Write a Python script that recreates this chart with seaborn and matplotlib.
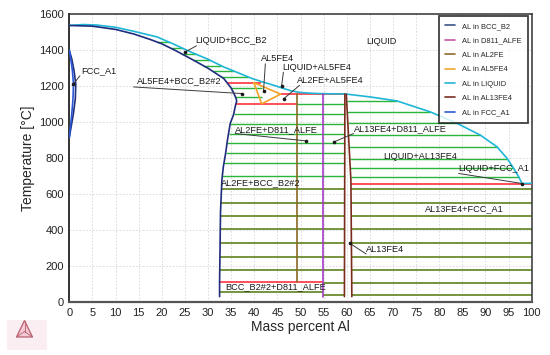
import numpy as np
import pandas as pd
import matplotlib
matplotlib.use("Agg")
import matplotlib.pyplot as plt
from matplotlib.lines import Line2D
from matplotlib.patches import Polygon, Rectangle
import seaborn as sns

# ---------------- data (mass % Al, temperature in degC) ----------------
liquid_x = [0, 3, 6, 10, 14, 19, 22.5, 26.2, 30, 33.4, 36, 39.5, 42, 44, 46, 48, 50, 53, 56, 59.7,
            65.2, 70.9, 78.1, 83.9, 88.9, 92.5, 94.7, 96.1, 97.2, 97.9, 100]
liquid_t = [1538, 1543, 1540, 1528, 1505, 1474, 1435, 1391, 1350, 1307, 1280, 1243, 1222, 1207, 1190, 1174, 1165, 1160, 1158, 1157,
            1140, 1118, 1057, 993, 928, 863, 798, 743, 696, 659, 660]

bcc_x = [0, 5, 10, 14, 17.5, 20, 23, 26.2, 30, 33.4, 34.1, 35.0, 35.6, 36.1, 36.2, 36.0, 35.5, 34.8,
         34.2, 33.8, 33.3, 33.0, 32.7, 32.6, 32.5, 32.5]
bcc_t = [1538, 1534, 1516, 1490, 1460, 1436, 1398, 1354, 1300, 1243, 1220, 1190, 1160, 1130, 1115, 1100, 1040, 993,
         900, 826, 750, 678, 500, 300, 109, 30]

loop_bcc_x = [0, 0.5, 1.0, 1.4, 1.3, 0.9, 0.4, 0]
loop_bcc_t = [1400, 1355, 1290, 1213, 1130, 1050, 975, 915]
loop_fcc_x = [0, 0.3, 0.65, 0.9, 0.8, 0.55, 0.25, 0]
loop_fcc_t = [1400, 1355, 1290, 1213, 1130, 1050, 975, 915]

al5fe4_x = [39.9, 45.7, 41.6, 39.9]
al5fe4_t = [1220, 1156, 1102, 1220]

al2fe_x = [49.2, 49.2]
al2fe_t = [1156, 109]

d811_x = [54.9, 54.9]
d811_t = [1156, 30]

al13fe4_left_x = [59.6, 59.5]
al13fe4_left_t = [1156, 30]
al13fe4_right_x = [59.9, 60.9, 61.1]
al13fe4_right_t = [1156, 678, 30]

# invariant (red) lines
inv_t = [1220, 1156, 1100, 659, 109]
inv_x0 = [34.1, 45.7, 36.0, 61.0, 32.5]
inv_x1 = [41.5, 59.9, 49.2, 100, 54.9]

# tie-line temperatures
tie_liq_bcc = [1446, 1410, 1378, 1345, 1315, 1283, 1252]
tie_al5fe4_bcc = [1188, 1140]
tie_upper_solid = [1048, 992, 937, 882, 826, 771, 700]
tie_d811_top = [1100]
tie_liq_al13 = [1118, 1057, 993, 928, 863, 798, 743, 696]
tie_lower_solid = [628, 553, 479, 404, 326, 251, 177]
tie_right_low = [104, 39]
tie_bcc_d811 = [57]

# labels: text, x, T, arrow tip (x, T) or None, arrow start (x, T)
labels = [
    ("FCC_A1", 6.4, 1285, (0.9, 1213), (2.3, 1258)),
    ("LIQUID+BCC_B2", 35.0, 1452, (25.1, 1391), (27.5, 1425)),
    ("LIQUID", 67.4, 1450, None, None),
    ("AL5FE4", 45.1, 1354, (42.0, 1172), (42.4, 1325)),
    ("LIQUID+AL5FE4", 53.6, 1302, (45.9, 1200), (46.3, 1278)),
    ("AL2FE+AL5FE4", 56.5, 1230, (46.4, 1131), (49.8, 1205)),
    ("AL5FE4+BCC_B2#2", 23.7, 1228, (37.4, 1159), (13.9, 1196)),
    ("AL2FE+D811_ALFE", 44.9, 959, (51.2, 896), (35.9, 937)),
    ("AL13FE4+D811_ALFE", 71.7, 965, (57.2, 890), (61.5, 937)),
    ("LIQUID+AL13FE4", 75.9, 811, None, None),
    ("LIQUID+FCC_A1", 91.8, 743, (97.9, 659), (84.2, 715)),
    ("AL2FE+BCC_B2#2", 41.3, 665, None, None),
    ("AL13FE4+FCC_A1", 85.4, 520, None, None),
    ("AL13FE4", 68.3, 294, (60.7, 326), (64.2, 267)),
    ("BCC_B2#2+D811_ALFE", 44.7, 85, None, None),
]

legend_labels = ["AL in BCC_B2", "AL in D811_ALFE", "AL in AL2FE", "AL in AL5FE4",
                 "AL in LIQUID", "AL in AL13FE4", "AL in FCC_A1"]

x_ticks = list(range(0, 101, 5))
y_ticks = list(range(0, 1601, 200))

# ---------------- style ----------------
C_BCC = "#1f2d7c"
C_D811 = "#a43cc4"
C_AL2FE = "#8a6a22"
C_AL5FE4 = "#f2a228"
C_LIQ = "#1eb6d6"
C_AL13 = "#7a2c1e"
C_FCC = "#2a58d4"
C_RED = "#ff1f2f"
C_GREEN = "#2cb43a"
C_OLIVE = "#6a8c2c"
legend_colors = ["#3a5488", "#c058a6", "#8c6d2c", "#f2a830", "#22b4d8", "#7a2e20", "#2c5bd0"]

sns.set_theme(style="white")
plt.rcParams["font.family"] = ["Liberation Sans", "DejaVu Sans"]

fig = plt.figure(figsize=(5.5, 3.55), dpi=100)
ax = fig.add_axes([69.3 / 550, 53 / 355, 462.4 / 550, 287.7 / 355])

ax.set_xlim(0, 100)
ax.set_ylim(0, 1600)
ax.set_xticks(x_ticks)
ax.set_yticks(y_ticks)
ax.grid(True, color="#d6d6d6", linestyle=(0, (2, 2)), linewidth=0.6)
ax.set_axisbelow(True)

def inv_curve(xs, ts, T):
    ts = np.asarray(ts, float)
    xs = np.asarray(xs, float)
    return float(np.interp(T, ts[::-1], xs[::-1]))

# tie lines
lw_tie = 1.0
for T in tie_liq_bcc:
    ax.hlines(T, inv_curve(bcc_x, bcc_t, T), inv_curve(liquid_x[1:15], liquid_t[1:15], T),
              color=C_GREEN, lw=lw_tie, zorder=2)
for T in tie_al5fe4_bcc:
    ax.hlines(T, inv_curve(bcc_x, bcc_t, T), inv_curve(al5fe4_x[2::-2], al5fe4_t[2::-2], T),
              color=C_GREEN, lw=lw_tie, zorder=2)
for T in tie_upper_solid:
    ax.hlines(T, inv_curve(bcc_x, bcc_t, T), al13fe4_left_x[0], color=C_GREEN, lw=lw_tie, zorder=2)
for T in tie_d811_top:
    ax.hlines(T, al2fe_x[0], al13fe4_left_x[0], color=C_GREEN, lw=lw_tie, zorder=2)
for T in tie_liq_al13:
    ax.hlines(T, inv_curve(al13fe4_right_x, al13fe4_right_t, T),
              inv_curve(liquid_x[19:30], liquid_t[19:30], T), color=C_GREEN, lw=lw_tie, zorder=2)
for T in tie_lower_solid:
    ax.hlines(T, inv_curve(bcc_x, bcc_t, T), al13fe4_left_x[1], color=C_OLIVE, lw=lw_tie + 0.3, zorder=2)
    ax.hlines(T, inv_curve(al13fe4_right_x, al13fe4_right_t, T), 100, color=C_OLIVE, lw=lw_tie + 0.3, zorder=2)
for T in tie_right_low:
    ax.hlines(T, d811_x[0], al13fe4_left_x[1], color=C_OLIVE, lw=lw_tie + 0.3, zorder=2)
    ax.hlines(T, inv_curve(al13fe4_right_x, al13fe4_right_t, T), 100, color=C_OLIVE, lw=lw_tie + 0.3, zorder=2)
for T in tie_bcc_d811:
    ax.hlines(T, bcc_x[-1], d811_x[0], color=C_OLIVE, lw=lw_tie + 0.3, zorder=2)

# invariant lines
for T, a, b in zip(inv_t, inv_x0, inv_x1):
    ax.hlines(T, a, b, color=C_RED, lw=1.1, zorder=3)

# phase boundaries
curves = [
    (liquid_x, liquid_t, C_LIQ),
    (bcc_x, bcc_t, C_BCC),
    (loop_bcc_x, loop_bcc_t, C_BCC),
    (loop_fcc_x, loop_fcc_t, C_FCC),
    (al5fe4_x, al5fe4_t, C_AL5FE4),
    (al2fe_x, al2fe_t, C_AL2FE),
    (d811_x, d811_t, C_D811),
    (al13fe4_left_x, al13fe4_left_t, C_AL13),
    (al13fe4_right_x, al13fe4_right_t, C_AL13),
]
for xs, ts, c in curves:
    df = pd.DataFrame({"x": xs, "t": ts})
    sns.lineplot(data=df, x="x", y="t", sort=False, estimator=None, color=c, lw=1.2, ax=ax, zorder=4)

# labels
for text, lx, lt, tip, start in labels:
    ax.text(lx, lt, text, fontsize=6.6, ha="center", va="center", color="#1a1a1a", zorder=6)
    if tip is not None:
        ax.plot([start[0], tip[0]], [start[1], tip[1]], color="#3a3a3a", lw=0.7, zorder=6)
        ax.plot([tip[0]], [tip[1]], "o", color="#1a1a1a", ms=1.6, zorder=6)

ax.set_xlabel("Mass percent Al", fontsize=10, labelpad=2)
ax.set_ylabel("Temperature [°C]", fontsize=10, labelpad=3)
ax.tick_params(axis="both", labelsize=8, length=2.5, width=0.8, direction="out", pad=1.5, colors="#222222")
for name, sp in ax.spines.items():
    sp.set_visible(True)
    sp.set_color("#333333")
    sp.set_linewidth(1.1)
ax.spines["bottom"].set_linewidth(1.6)
ax.spines["bottom"].set_color("#555555")
ax.spines["left"].set_linewidth(1.4)

handles = [Line2D([0], [0], color=c, lw=1.2) for c in legend_colors]
leg = ax.legend(handles, legend_labels, loc="upper right", bbox_to_anchor=(528 / 550, 1 - 16 / 355),
                bbox_transform=fig.transFigure, fontsize=5.4, frameon=True, fancybox=False,
                handlelength=1.3, handletextpad=0.9, labelspacing=0.95, borderpad=0.9,
                borderaxespad=0.0)
leg.get_frame().set_edgecolor("#111111")
leg.get_frame().set_linewidth(1.3)
leg.set_zorder(10)

# Thermo-Calc style logo (bottom left)
fig.patches.append(Rectangle((7 / 550, 1 - 350 / 355), 40 / 550, 30 / 355, transform=fig.transFigure,
                             facecolor="#fbeef2", edgecolor="none"))
apex = (24.5 / 550, 1 - 320.5 / 355)
bl = (16.5 / 550, 1 - 337 / 355)
br = (32.5 / 550, 1 - 337 / 355)
fig.patches.append(Polygon([apex, bl, br], closed=True, transform=fig.transFigure,
                           facecolor="#f3c9d4", edgecolor="#b8606f", lw=0.9))
cx = (apex[0] + bl[0] + br[0]) / 3
cy = (apex[1] + bl[1] + br[1]) / 3
for v in (apex, bl, br):
    fig.lines.append(Line2D([v[0], cx], [v[1], cy], transform=fig.transFigure, color="#b8606f", lw=0.6))

fig.savefig("out.png", dpi=100)
